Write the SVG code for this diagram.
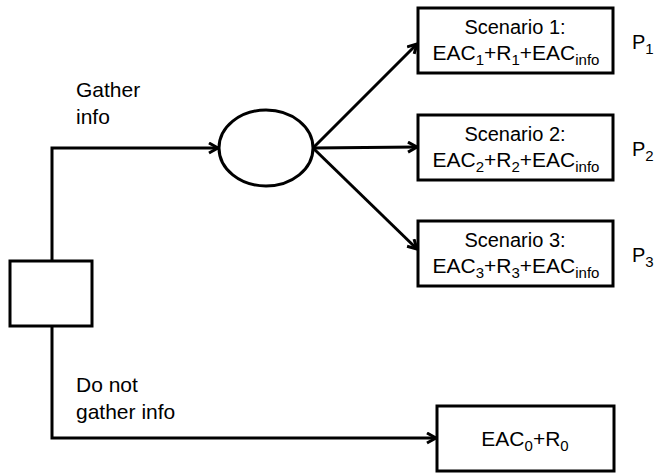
<svg xmlns="http://www.w3.org/2000/svg" width="656" height="475" viewBox="0 0 656 475">
<defs>
<style>
.t{font-family:"Liberation Sans",Arial,sans-serif;font-size:21px;fill:#000}
.h{font-size:20px}
.p{font-size:20px}
.box{fill:#fff;stroke:#000;stroke-width:3}
.ln{fill:none;stroke:#000;stroke-width:3}
.s{font-size:15px}
</style>
<marker id="arr" markerWidth="14" markerHeight="14" refX="11" refY="6" orient="auto" markerUnits="userSpaceOnUse">
<path d="M2,1 L11,6 L2,11" fill="none" stroke="#000" stroke-width="3" stroke-linejoin="miter"/>
</marker>
</defs>
<rect width="656" height="475" fill="#fff"/>
<g id="connectors">
<path class="ln" d="M52,261 V148 H218" marker-end="url(#arr)"/>
<path class="ln" d="M52,326 V438 H436" marker-end="url(#arr)"/>
<path class="ln" d="M313,148 L417,44" marker-end="url(#arr)"/>
<path class="ln" d="M313,148 L417,147" marker-end="url(#arr)"/>
<path class="ln" d="M313,148 L417,249" marker-end="url(#arr)"/>
<text class="t" x="76" y="97">Gather</text>
<text class="t" x="76" y="124">info</text>
<text class="t" x="76" y="392">Do not</text>
<text class="t" x="76" y="419">gather info</text>
</g>
<g id="decision">
<rect class="box" x="10" y="261" width="82" height="65"/>
</g>
<g id="chance">
<ellipse class="box" cx="266" cy="148" rx="47" ry="38"/>
</g>
<g id="scenario1">
<rect class="box" x="418" y="8" width="195" height="65"/>
<text class="t h" x="515" y="34" text-anchor="middle">Scenario 1:</text>
<text class="t" x="516" y="60" text-anchor="middle">EAC<tspan class="s" dy="5">1</tspan><tspan dy="-5">+R</tspan><tspan class="s" dy="5">1</tspan><tspan dy="-5">+EAC</tspan><tspan class="s" dy="5">info</tspan></text>
<text class="t p" x="632" y="49">P<tspan class="s" dy="5">1</tspan></text>
</g>
<g id="scenario2">
<rect class="box" x="418" y="115" width="195" height="65"/>
<text class="t h" x="515" y="141" text-anchor="middle">Scenario 2:</text>
<text class="t" x="516" y="167" text-anchor="middle">EAC<tspan class="s" dy="5">2</tspan><tspan dy="-5">+R</tspan><tspan class="s" dy="5">2</tspan><tspan dy="-5">+EAC</tspan><tspan class="s" dy="5">info</tspan></text>
<text class="t p" x="632" y="156">P<tspan class="s" dy="5">2</tspan></text>
</g>
<g id="scenario3">
<rect class="box" x="418" y="221" width="195" height="65"/>
<text class="t h" x="515" y="247" text-anchor="middle">Scenario 3:</text>
<text class="t" x="516" y="273" text-anchor="middle">EAC<tspan class="s" dy="5">3</tspan><tspan dy="-5">+R</tspan><tspan class="s" dy="5">3</tspan><tspan dy="-5">+EAC</tspan><tspan class="s" dy="5">info</tspan></text>
<text class="t p" x="632" y="262">P<tspan class="s" dy="5">3</tspan></text>
</g>
<g id="noinfo">
<rect class="box" x="437" y="406" width="177" height="65"/>
<text class="t" x="525" y="446" text-anchor="middle">EAC<tspan class="s" dy="5">0</tspan><tspan dy="-5">+R</tspan><tspan class="s" dy="5">0</tspan></text>
</g>
</svg>
